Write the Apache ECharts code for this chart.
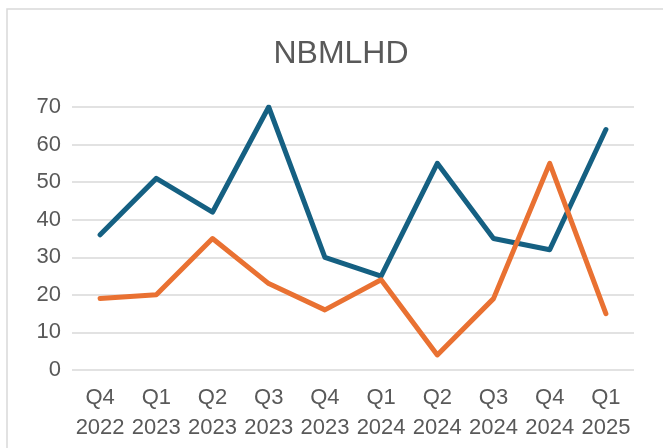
<!DOCTYPE html>
<html><head><meta charset="utf-8">
<script src="https://cdn.jsdelivr.net/npm/echarts@6/dist/echarts.min.js"></script>
<style>html,body{margin:0;padding:0;background:#fff}#c{width:663px;height:448px}</style>
</head><body><div id="c"></div>
<script>
const title = "NBMLHD";
const categories = ["Q4\n2022","Q1\n2023","Q2\n2023","Q3\n2023","Q4\n2023","Q1\n2024","Q2\n2024","Q3\n2024","Q4\n2024","Q1\n2025"];
const seriesBlue = [36, 51, 42, 70, 30, 25, 55, 35, 32, 64];
const seriesOrange = [19, 20, 35, 23, 16, 24, 4, 19, 55, 15];
const yTicks = {min: 0, max: 70, interval: 10};

const chart = echarts.init(document.getElementById('c'), null, {renderer: 'canvas'});
const font = "'Liberation Sans', Arial, sans-serif";
chart.setOption({
  animation: false,
  graphic: [{type: 'rect', shape: {x: 7, y: 9, width: 700, height: 500}, style: {fill: 'none', stroke: '#d9d9d9', lineWidth: 1.5}, silent: true}],
  title: {text: title, left: 336, top: 33, textAlign: 'center',
    textStyle: {fontFamily: font, fontSize: 32, fontWeight: 'normal', color: '#595959'}},
  grid: {left: 72, right: 29, top: 107, bottom: 78},
  xAxis: {type: 'category', data: categories, boundaryGap: true,
    axisLine: {show: false}, axisTick: {show: false},
    axisLabel: {interval: 0, fontFamily: font, fontSize: 22, color: '#595959', lineHeight: 30, margin: 13}},
  yAxis: {type: 'value', min: yTicks.min, max: yTicks.max, interval: yTicks.interval,
    axisLine: {show: false}, axisTick: {show: false},
    splitLine: {lineStyle: {color: '#d9d9d9', width: 1.5}},
    axisLabel: {fontFamily: font, fontSize: 22, color: '#595959', margin: 11}},
  series: [
    {type: 'line', data: seriesBlue, symbol: 'none', lineStyle: {color: '#156082', width: 5, cap: 'round', join: 'round'}},
    {type: 'line', data: seriesOrange, symbol: 'none', lineStyle: {color: '#E97132', width: 5, cap: 'round', join: 'round'}}
  ]
});
</script></body></html>
